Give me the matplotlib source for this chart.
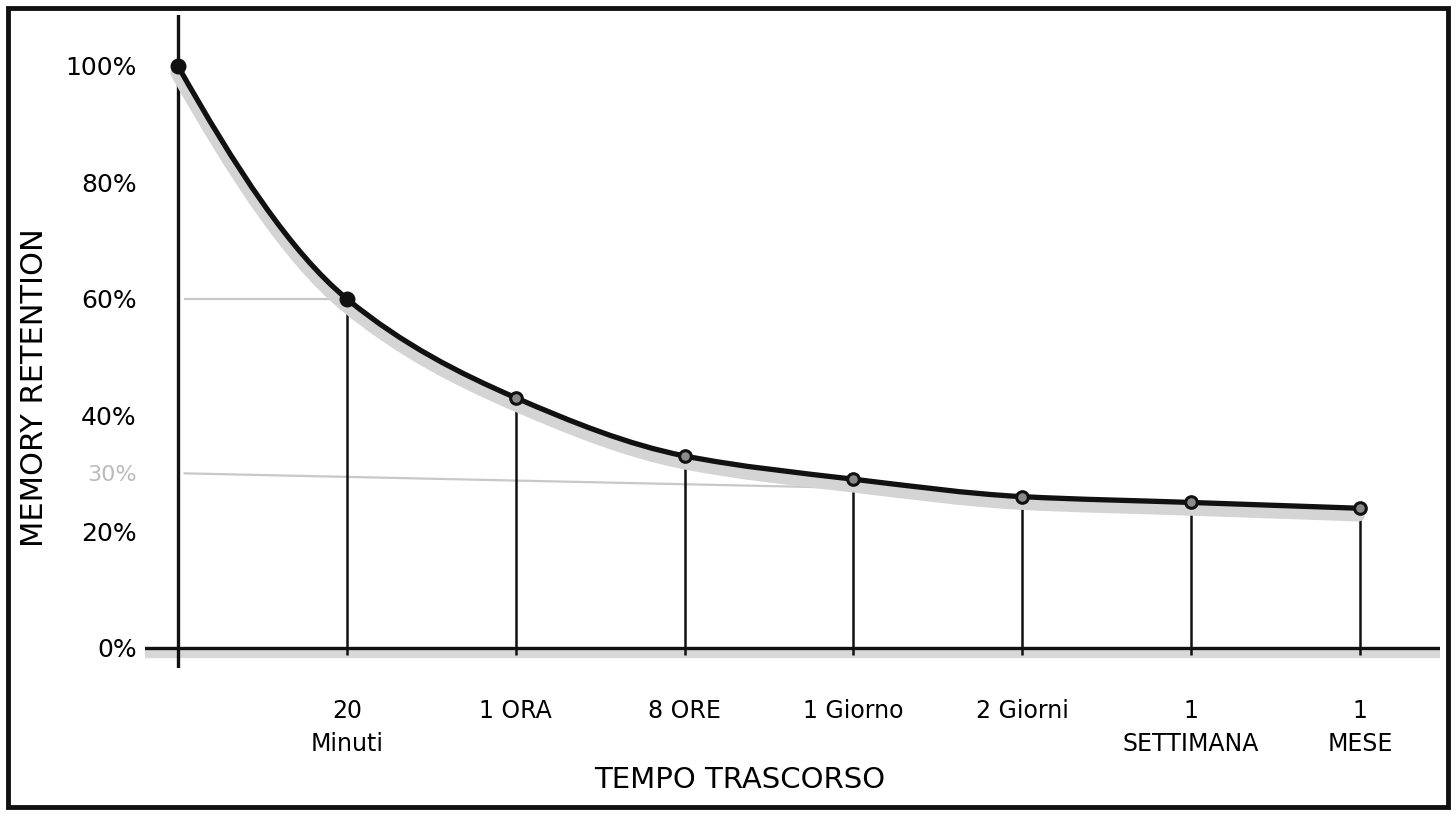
import numpy as np
import matplotlib
matplotlib.use("Agg")
import matplotlib.pyplot as plt
from matplotlib.path import Path
from matplotlib.patches import PathPatch, Rectangle
import matplotlib.patheffects as pe

# ---- data ----
time_labels = ["", "20\nMinuti", "1 ORA", "8 ORE", "1 Giorno", "2 Giorni", "1\nSETTIMANA", "1\nMESE"]
retention = [100, 60, 43, 33, 29, 26, 25, 24]
ytick_values = [0, 20, 30, 40, 60, 80, 100]
ytick_labels = ["0%", "20%", "30%", "40%", "60%", "80%", "100%"]
reference_levels = [60, 30]

plt.rcParams["font.family"] = ["DejaVu Sans"]

fig = plt.figure(figsize=(14.56, 8.15), dpi=100)
ax = fig.add_axes([0.0996, 0.1804, 0.8894, 0.8012])
ax.set_xlim(-0.195, 7.474)
ax.set_ylim(-3.44, 108.76)
for s in ax.spines.values():
    s.set_visible(False)

x = np.arange(len(retention), dtype=float)
y = np.array(retention, dtype=float)

shadow = [pe.Stroke(offset=(-1, -5), linewidth=9, foreground="#d4d4d4"), pe.Normal()]

# axes lines
ax.axhline(0, xmin=0, xmax=1, color="#111111", lw=2.4,
           path_effects=[pe.Stroke(offset=(0, -4), linewidth=6, foreground="#d8d8d8"), pe.Normal()])
ax.axvline(0, ymin=0, ymax=1, color="#111111", lw=2.4)

# gray reference lines
ax.plot([0.04, x[1]], [reference_levels[0], y[1]], color="#c8c8c8", lw=1.6, zorder=1)
ax.plot([0.04, x[4]], [reference_levels[1], y[4] - 1.5], color="#c8c8c8", lw=1.6, zorder=1)

# drop lines
ax.vlines(x[1:], -1.2, y[1:], color="#111111", lw=1.8, zorder=2)

# smooth monotone (PCHIP-style) curve through the points, drawn as cubic Bezier
h = np.diff(x)
d = np.diff(y) / h
m = np.zeros_like(y)
for i in range(1, len(y) - 1):
    if d[i - 1] * d[i] > 0:
        m[i] = 2.0 / (1.0 / d[i - 1] + 1.0 / d[i])
m[0] = (3 * d[0] - d[1]) / 2.0
m[-1] = (3 * d[-1] - d[-2]) / 2.0
verts = [(x[0], y[0])]
codes = [Path.MOVETO]
for i in range(len(x) - 1):
    c1 = (x[i] + h[i] / 3, y[i] + m[i] * h[i] / 3)
    c2 = (x[i + 1] - h[i] / 3, y[i + 1] - m[i + 1] * h[i] / 3)
    verts += [c1, c2, (x[i + 1], y[i + 1])]
    codes += [Path.CURVE4] * 3
curve = PathPatch(Path(verts, codes), fill=False, edgecolor="#111111", lw=3.8,
                  capstyle="round", zorder=3, path_effects=shadow)
ax.add_patch(curve)

# markers
ax.scatter(x[:2], y[:2], s=110, color="#111111", zorder=5)
ax.scatter(x[2:], y[2:], s=70, facecolor="#8a8a8a", edgecolor="#111111", linewidth=2.2, zorder=5)

# ticks
ax.set_yticks(ytick_values, ytick_labels, fontsize=18)
ax.set_xticks(x, time_labels, fontsize=17, linespacing=1.5)
ax.tick_params(axis="both", length=0)
ax.tick_params(axis="y", pad=6)
ax.tick_params(axis="x", pad=22)
for lab, v in zip(ax.get_yticklabels(), ytick_values):
    if v == 30:
        lab.set_color("#bbbbbb")
        lab.set_fontsize(16)

# titles
fig.text(740 / 1456, 1 - 780 / 815, "TEMPO TRASCORSO", ha="center", va="center", fontsize=21)
fig.text(35 / 1456, 1 - 388 / 815, "MEMORY RETENTION", ha="center", va="center", rotation=90, fontsize=22)

# hand-drawn frame
fig.add_artist(Rectangle((8 / 1456, 8 / 815), 1440 / 1456, 799 / 815, transform=fig.transFigure,
                         fill=False, lw=3.5, edgecolor="#111111"))

fig.savefig("out.png", dpi=100)
